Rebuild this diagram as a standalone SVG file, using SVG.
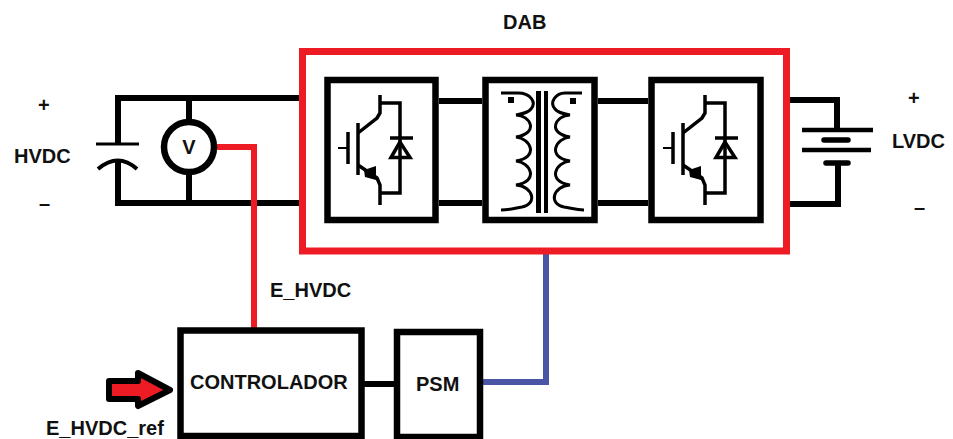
<svg xmlns="http://www.w3.org/2000/svg" width="953" height="439" viewBox="0 0 953 439">
<style>
text{font-family:"Liberation Sans",Arial,sans-serif;font-weight:700;font-size:20px;fill:#111}
.w{fill:none;stroke:#000;stroke-width:6}
.b{fill:#fff;stroke:#000;stroke-width:6.5}
.t{fill:none;stroke:#000;stroke-width:3.5;stroke-linejoin:miter}
.c{fill:none;stroke:#000;stroke-width:3}
</style>
<defs>
<g id="igbt">
<path class="t" d="M348 132V164M358 123V175"/>
<path fill="none" stroke="#000" stroke-width="2" d="M338 148H348"/>
<path class="t" d="M358 133L377 118L380 113V95M380 103H400V193H380M358 165L377 178L380 185V205"/>
<path d="M364 170L376 166V180L365 177Z" fill="#000"/>
<path class="t" d="M390 138H413M400 142L391 157.500H410Z"/>
</g>
</defs>
<rect width="953" height="439" fill="#fff"/>
<g id="connectors">
<path class="w" d="M300 98H118V144M118 160V203H300"/>
<path class="w" d="M189 98V122M189 172V203"/>
<path class="w" d="M439 101H482M439 203H482M598 101H648M598 203H648"/>
<path class="w" d="M790 100H837V130M838 163V204H790"/>
<path class="w" d="M364 384H395"/>
<path fill="none" stroke="#ed1c24" stroke-width="6" d="M214 147H254V328"/>
<path fill="none" stroke="#4a55a5" stroke-width="6" d="M546 253V382H483"/>
</g>
<g id="dab"><rect x="302.500" y="51.500" width="484" height="199.500" fill="none" stroke="#ed1c24" stroke-width="7"/><text x="503" y="29">DAB</text></g>
<g id="capacitor">
<path d="M96 144H139" fill="none" stroke="#000" stroke-width="3"/>
<path d="M98 169Q118 152 137 169" fill="none" stroke="#000" stroke-width="4"/>
</g>
<g id="voltimetro"><circle cx="189" cy="147" r="25" class="b"/><text x="189" y="154" text-anchor="middle">V</text></g>
<g id="igbt1"><rect x="327.500" y="80" width="108" height="140" class="b"/><use href="#igbt"/></g>
<g id="transformador"><rect x="485.500" y="80" width="109" height="140" class="b"/>
<rect x="536" y="91" width="5" height="122"/><rect x="544" y="91" width="4" height="122"/>
<rect x="508" y="97" width="6" height="6"/><rect x="570" y="98" width="6" height="6"/>
<path class="c" d="M501 93H518C530 93 537 102 531 109C528 113 522 114 516 115C530 115 540 133 516 137C530 138 540 157 516 161C530 162 540 181 516 185C533 186 538 204 522 207C515 208 510 210 501 210"/>
<path class="c" d="M582 93H565C556 93 549 102 555 109C558 113 564 114 570 115C556 115 546 133 570 137C556 138 546 157 570 161C556 162 546 181 570 185C553 186 548 204 564 207C571 208 576 210 584 210"/>
</g>
<g id="igbt2"><rect x="651.500" y="80" width="109" height="140" class="b"/><use href="#igbt" x="325"/></g>
<g id="bateria">
<path d="M802 130H873M802 150H871" fill="none" stroke="#000" stroke-width="4.500"/>
<path d="M824 140H848M826 163H848" fill="none" stroke="#000" stroke-width="5.500" stroke-linecap="round"/>
</g>
<g id="controlador"><rect x="180.500" y="330.500" width="181" height="105.500" class="b"/><text x="190" y="389">CONTROLADOR</text></g>
<g id="psm"><rect x="397" y="332" width="83" height="105" class="b"/><text x="416" y="391">PSM</text></g>
<g id="ref"><path d="M109 381H138V373L170 390L138 406V399H109Z" fill="#ed1c24" stroke="#000" stroke-width="6" stroke-linejoin="round"/><text x="46" y="435">E_HVDC_ref</text></g>
<g id="labels">
<text x="38" y="112">+</text><text x="14" y="163">HVDC</text><text x="39" y="210">–</text>
<text x="908" y="105">+</text><text x="892" y="148">LVDC</text><text x="914" y="214">–</text>
<text x="270" y="297">E_HVDC</text>
</g>
</svg>
